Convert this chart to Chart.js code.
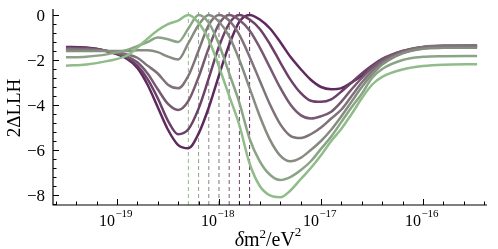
<!DOCTYPE html>
<html>
<head>
<meta charset="utf-8">
<script src="https://cdn.jsdelivr.net/npm/chart.js@4.4.1/dist/chart.umd.min.js"></script>
<style>
  html, body { margin: 0; padding: 0; background: #fff; }
</style>
</head>
<body>
<canvas id="llhChart" width="498" height="249"></canvas>
<script>
const logDm2 = [-19.5, -19.3, -19.1, -18.9, -18.8, -18.7, -18.6, -18.5, -18.4, -18.3, -18.2,
  -18.1, -18.0, -17.9, -17.8, -17.7, -17.6, -17.5, -17.4, -17.3, -17.2, -17.1, -17.0,
  -16.9, -16.8, -16.7, -16.6, -16.5, -16.4, -16.2, -16.0, -15.8, -15.47];

// true value of each scan (dashed lines), same order as the curves below
const bestFitLog = [-17.7, -17.8, -17.9, -18.0, -18.1, -18.2, -18.3];

// 2*dLLH profiles, darkest to lightest
const llh1 = [-1.42, -1.44, -1.6, -1.95, -2.35, -3.1, -4.1, -5.1, -5.78, -5.92, -5.27, -4.11, -2.68, -1.32, -0.3, 0, -0.2, -0.6, -1.2, -1.86, -2.4, -2.88, -3.2, -3.3, -3.25, -3.0, -2.7, -2.35, -2.05, -1.68, -1.48, -1.44, -1.42];
const llh2 = [-1.45, -1.47, -1.6, -1.9, -2.25, -2.85, -3.7, -4.7, -5.3, -5.08, -4.16, -2.81, -1.4, -0.38, 0, -0.2, -0.62, -1.3, -2.1, -2.87, -3.46, -3.81, -3.86, -3.75, -3.4, -3.0, -2.6, -2.25, -1.95, -1.6, -1.43, -1.39, -1.38];
const llh3 = [-1.48, -1.5, -1.6, -1.85, -2.1, -2.6, -3.3, -3.95, -4.22, -3.82, -2.76, -1.46, -0.4, 0, -0.22, -0.69, -1.45, -2.34, -3.23, -3.98, -4.45, -4.6, -4.5, -4.3, -3.85, -3.3, -2.8, -2.35, -2.0, -1.6, -1.42, -1.37, -1.35];
const llh4 = [-1.52, -1.53, -1.6, -1.75, -1.9, -2.25, -2.6, -3.1, -3.26, -2.7, -1.58, -0.44, 0, -0.25, -0.88, -1.85, -2.92, -3.98, -4.85, -5.37, -5.47, -5.3, -5.0, -4.6, -4.2, -3.6, -3.0, -2.5, -2.1, -1.65, -1.42, -1.36, -1.35];
const llh5 = [-1.6, -1.6, -1.6, -1.6, -1.57, -1.57, -1.65, -1.85, -1.98, -1.25, -0.44, 0, -0.3, -0.95, -2.0, -3.25, -4.5, -5.55, -6.25, -6.5, -6.35, -6.0, -5.6, -5.1, -4.5, -3.85, -3.2, -2.65, -2.2, -1.7, -1.5, -1.46, -1.45];
const llh6 = [-1.88, -1.85, -1.75, -1.55, -1.38, -1.2, -1.0, -1.08, -1.2, -0.6, 0, -0.35, -1.3, -2.6, -3.9, -5.5, -6.5, -7.1, -7.33, -7.2, -6.9, -6.5, -5.95, -5.4, -4.75, -4.1, -3.5, -2.8, -2.4, -2.0, -1.86, -1.83, -1.82];
const llh7 = [-2.25, -2.2, -2.05, -1.8, -1.45, -1.05, -0.68, -0.4, -0.25, 0, -0.35, -1.1, -2.3, -3.6, -4.9, -6.6, -7.6, -8.02, -8.1, -7.8, -7.3, -6.8, -6.23, -5.6, -5.05, -4.4, -3.7, -3.1, -2.75, -2.42, -2.27, -2.21, -2.19];

const curves = [llh1, llh2, llh3, llh4, llh5, llh6, llh7];
const colours = ['#5e2a5e', '#6b4168', '#775a71', '#7f7279', '#868c80', '#8ba486', '#8fbc88'];

const yTop = 0.267, yBottom = -8.444;
const serif = "'Liberation Serif', 'DejaVu Serif', serif";

const datasets = [];
curves.forEach((c, i) => {
  datasets.push({
    data: logDm2.map((l, j) => ({ x: Math.pow(10, l), y: c[j] })),
    borderColor: colours[i],
    borderWidth: 2.5,
    pointRadius: 0,
    cubicInterpolationMode: 'monotone',
    order: 6 - i
  });
});
bestFitLog.forEach((l, i) => {
  datasets.push({
    data: [{ x: Math.pow(10, l), y: yBottom }, { x: Math.pow(10, l), y: yTop }],
    borderColor: colours[i],
    borderWidth: 1,
    borderDash: [4, 3],
    pointRadius: 0,
    order: 20
  });
});

// frame, inward ticks and labels drawn by hand (latex-ish look)
const axesPlugin = {
  id: 'axesPlugin',
  afterDraw(chart) {
    const { ctx, chartArea: a, scales: { x, y } } = chart;
    ctx.save();
    ctx.strokeStyle = '#000';
    ctx.fillStyle = '#000';
    ctx.lineWidth = 1.2;
    ctx.beginPath();
    ctx.moveTo(a.left, a.top);
    ctx.lineTo(a.left, a.bottom);
    ctx.lineTo(a.right, a.bottom);
    ctx.stroke();

    ctx.lineWidth = 1;
    for (let k = -98; k <= -77; k++) {
      const px = Math.round(x.getPixelForValue(Math.pow(10, k / 5))) + 0.5;
      const major = k % 5 === 0;
      ctx.beginPath();
      ctx.moveTo(px, a.bottom);
      ctx.lineTo(px, a.bottom - (major ? 6 : 3.5));
      ctx.stroke();
      if (major) {
        const exp = '\u2212' + (-k / 5);
        ctx.font = '16px ' + serif;
        const w1 = ctx.measureText('10').width;
        ctx.font = '11px ' + serif;
        const w2 = ctx.measureText(exp).width;
        const x0 = px - (w1 + w2) / 2 - 2;
        ctx.textAlign = 'left';
        ctx.textBaseline = 'alphabetic';
        ctx.font = '16px ' + serif;
        ctx.fillText('10', x0, 226);
        ctx.font = '11px ' + serif;
        ctx.fillText(exp, x0 + w1 + 0.5, 217);
      }
    }

    for (let k = 0; k <= 21; k++) {
      const v = -0.4 * k;
      const py = Math.round(y.getPixelForValue(v)) + 0.5;
      const major = k % 5 === 0;
      ctx.beginPath();
      ctx.moveTo(a.left, py);
      ctx.lineTo(a.left + (major ? 6 : 3.5), py);
      ctx.stroke();
      if (major) {
        ctx.font = '17px ' + serif;
        ctx.textAlign = 'right';
        ctx.textBaseline = 'middle';
        ctx.fillText(k === 0 ? '0' : '\u2212' + (k * 0.4).toFixed(0), a.left - 8, py + 1);
      }
    }

    // x title: delta m^2 / eV^2
    ctx.textAlign = 'left';
    ctx.textBaseline = 'alphabetic';
    const parts = [
      ['italic 20px ' + serif, '\u03b4', 0],
      ['20px ' + serif, 'm', 0],
      ['13px ' + serif, '2', -8],
      ['20px ' + serif, '/eV', 0],
      ['13px ' + serif, '2', -10]
    ];
    let total = 0;
    parts.forEach(p => { ctx.font = p[0]; total += ctx.measureText(p[1]).width; });
    let cx = 268 - total / 2;
    parts.forEach(p => {
      ctx.font = p[0];
      ctx.fillText(p[1], cx, 246 + p[2]);
      cx += ctx.measureText(p[1]).width;
    });

    // y title
    ctx.translate(15, 108);
    ctx.rotate(-Math.PI / 2);
    ctx.font = '19px ' + serif;
    ctx.textAlign = 'center';
    ctx.textBaseline = 'middle';
    ctx.fillText('2\u0394LLH', 0, 0);
    ctx.restore();
  }
};

new Chart(document.getElementById('llhChart').getContext('2d'), {
  type: 'line',
  data: { datasets },
  options: {
    responsive: false,
    animation: false,
    layout: { padding: { left: 53, right: 11, top: 9, bottom: 44 } },
    plugins: { legend: { display: false }, tooltip: { enabled: false } },
    scales: {
      x: { type: 'logarithmic', min: Math.pow(10, -19.627), max: Math.pow(10, -15.373), display: false },
      y: { type: 'linear', min: yBottom, max: yTop, display: false }
    }
  },
  plugins: [axesPlugin]
});
</script>
</body>
</html>
